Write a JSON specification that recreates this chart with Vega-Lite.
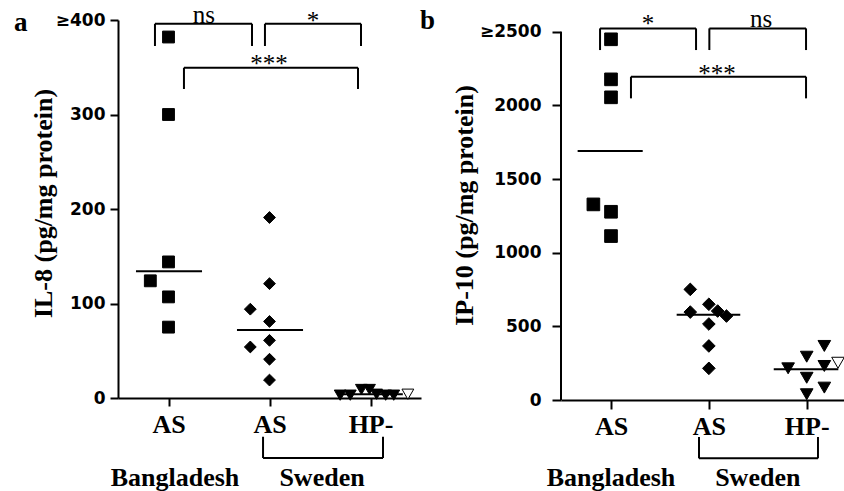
{
  "$schema": "https://vega.github.io/schema/vega-lite/v6.json",
  "autosize": {"type": "pad"},
  "padding": {"left": 13, "top": 3, "right": 0, "bottom": 0},
  "background": "white",
  "bounds": "flush",
  "spacing": 140,
  "config": {
    "view": {"stroke": null},
    "axis": {"grid": false, "domainColor": "black", "tickColor": "black", "labelColor": "black", "titleColor": "black", "domainWidth": 2, "tickWidth": 2, "labelFlush": false, "labelOverlap": false}
  },
  "datasets": {
    "a_pts": [
      {"type": "Bangladesh AS", "pos": 1.0, "value": 382},
      {"type": "Bangladesh AS", "pos": 1.0, "value": 300},
      {"type": "Bangladesh AS", "pos": 1.0, "value": 144},
      {"type": "Bangladesh AS", "pos": 0.82, "value": 124},
      {"type": "Bangladesh AS", "pos": 1.0, "value": 107},
      {"type": "Bangladesh AS", "pos": 1.0, "value": 75},
      {"type": "Sweden AS", "pos": 2.0, "value": 191},
      {"type": "Sweden AS", "pos": 2.0, "value": 121},
      {"type": "Sweden AS", "pos": 1.81, "value": 94},
      {"type": "Sweden AS", "pos": 2.0, "value": 81},
      {"type": "Sweden AS", "pos": 2.0, "value": 61},
      {"type": "Sweden AS", "pos": 1.81, "value": 54},
      {"type": "Sweden AS", "pos": 2.0, "value": 41},
      {"type": "Sweden AS", "pos": 2.0, "value": 19},
      {"type": "Sweden HP-", "pos": 2.7, "value": 3},
      {"type": "Sweden HP-", "pos": 2.8, "value": 3},
      {"type": "Sweden HP-", "pos": 2.91, "value": 9},
      {"type": "Sweden HP-", "pos": 2.99, "value": 9},
      {"type": "Sweden HP-", "pos": 3.06, "value": 4},
      {"type": "Sweden HP-", "pos": 3.15, "value": 3},
      {"type": "Sweden HP-", "pos": 3.23, "value": 3},
      {"type": "Sweden HP- open", "pos": 3.37, "value": 4}
    ],
    "a_med": [
      {"x1": 0.678, "x2": 1.332, "m": 134},
      {"x1": 1.678, "x2": 2.332, "m": 72},
      {"x1": 2.68, "x2": 3.32, "m": 4}
    ],
    "a_br": [
      {"x1": 0.866, "x2": 1.827, "top": 396, "bottom": 372.5, "label": "ns", "lx": 1.35, "ly": 396.5},
      {"x1": 1.955, "x2": 2.906, "top": 396, "bottom": 372.5, "label": "*", "lx": 2.43, "ly": 390},
      {"x1": 1.153, "x2": 2.876, "top": 349.5, "bottom": 327, "label": "***", "lx": 1.995, "ly": 344.6},
      {"x1": 1.936, "x2": 3.124, "top": -63.5, "bottom": -41, "label": "", "lx": 2.5, "ly": 0}
    ],
    "a_txt": [
      {"label": "Bangladesh", "x": 1.064, "y": -93},
      {"label": "Sweden", "x": 2.52, "y": -93}
    ],
    "a_letter": [{"label": "a", "x": -0.53, "y": 388}],
    "b_pts": [
      {"type": "Bangladesh AS", "pos": 1.0, "value": 2449},
      {"type": "Bangladesh AS", "pos": 1.0, "value": 2177},
      {"type": "Bangladesh AS", "pos": 1.0, "value": 2055},
      {"type": "Bangladesh AS", "pos": 0.82, "value": 1328},
      {"type": "Bangladesh AS", "pos": 1.0, "value": 1278},
      {"type": "Bangladesh AS", "pos": 1.0, "value": 1113},
      {"type": "Sweden AS", "pos": 1.81, "value": 751},
      {"type": "Sweden AS", "pos": 1.81, "value": 597},
      {"type": "Sweden AS", "pos": 2.0, "value": 650},
      {"type": "Sweden AS", "pos": 2.09, "value": 604},
      {"type": "Sweden AS", "pos": 2.18, "value": 570},
      {"type": "Sweden AS", "pos": 2.0, "value": 516},
      {"type": "Sweden AS", "pos": 2.0, "value": 367},
      {"type": "Sweden AS", "pos": 2.0, "value": 215},
      {"type": "Sweden HP-", "pos": 2.81, "value": 215},
      {"type": "Sweden HP-", "pos": 3.0, "value": 294},
      {"type": "Sweden HP-", "pos": 3.18, "value": 367},
      {"type": "Sweden HP-", "pos": 3.18, "value": 231},
      {"type": "Sweden HP-", "pos": 3.0, "value": 151},
      {"type": "Sweden HP-", "pos": 3.18, "value": 84},
      {"type": "Sweden HP-", "pos": 3.0, "value": 39},
      {"type": "Sweden HP- open", "pos": 3.32, "value": 253}
    ],
    "b_med": [
      {"x1": 0.659, "x2": 1.324, "m": 1690},
      {"x1": 1.671, "x2": 2.321, "m": 579},
      {"x1": 2.663, "x2": 3.323, "m": 208}
    ],
    "b_br": [
      {"x1": 0.888, "x2": 1.869, "top": 2523, "bottom": 2376, "label": "*", "lx": 1.378, "ly": 2496},
      {"x1": 2.005, "x2": 2.993, "top": 2523, "bottom": 2376, "label": "ns", "lx": 2.533, "ly": 2534},
      {"x1": 1.204, "x2": 2.993, "top": 2195, "bottom": 2048, "label": "***", "lx": 2.083, "ly": 2162},
      {"x1": 1.899, "x2": 3.115, "top": -396, "bottom": -251, "label": "", "lx": 2.5, "ly": 0}
    ],
    "b_txt": [
      {"label": "Bangladesh", "x": 1.0, "y": -584},
      {"label": "Sweden", "x": 2.5, "y": -584}
    ],
    "b_letter": [{"label": "b", "x": -0.952, "y": 2519}],
    "b_axis": [{"x": 0.489, "y1": 0, "y2": 2500}]
  },
  "hconcat": [
    {
      "width": 303,
      "height": 378,
      "layer": [
        {
          "data": {"name": "a_pts"},
          "mark": {"type": "point", "filled": true, "stroke": "black", "strokeWidth": 1, "opacity": 1, "size": 140},
          "encoding": {
            "x": {"field": "pos", "type": "quantitative", "scale": {"domain": [0.5, 3.5], "nice": false, "zero": false},
              "axis": {"values": [1, 2, 3], "labelExpr": "datum.value == 3 ? 'HP-' : 'AS'", "title": null, "labelFont": "Liberation Serif", "labelFontWeight": "bold", "labelFontSize": 26, "tickSize": 8, "labelPadding": 5}},
            "y": {"field": "value", "type": "quantitative", "scale": {"domain": [0, 400], "nice": false},
              "axis": {"values": [0, 100, 200, 300, 400], "labelExpr": "datum.value == 400 ? '≥400' : datum.label", "title": "IL-8 (pg/mg protein)", "titleFont": "Liberation Serif", "titleFontSize": 26, "titleFontWeight": "bold", "titleX": -74.5, "titleY": 183, "titleAngle": -90, "titleAlign": "center", "titleBaseline": "middle", "labelFont": "DejaVu Sans", "labelFontWeight": "bold", "labelFontSize": 17, "tickSize": 8, "labelPadding": 5}},
            "shape": {"field": "type", "type": "nominal", "scale": {"domain": ["Bangladesh AS", "Sweden AS", "Sweden HP-", "Sweden HP- open"], "range": ["square", "diamond", "triangle-down", "triangle-down"]}, "legend": null},
            "fill": {"field": "type", "type": "nominal", "scale": {"domain": ["Bangladesh AS", "Sweden AS", "Sweden HP-", "Sweden HP- open"], "range": ["black", "black", "black", "white"]}, "legend": null}
          }
        },
        {
          "data": {"name": "a_br"},
          "mark": {"type": "rule", "color": "black", "strokeWidth": 2},
          "encoding": {
            "x": {"field": "x1", "type": "quantitative"},
            "x2": {"field": "x2"},
            "y": {"field": "top", "type": "quantitative"}
          }
        },
        {
          "data": {"name": "a_br"},
          "mark": {"type": "rule", "color": "black", "strokeWidth": 2},
          "encoding": {
            "x": {"field": "x1", "type": "quantitative"},
            "y": {"field": "top", "type": "quantitative"},
            "y2": {"field": "bottom"}
          }
        },
        {
          "data": {"name": "a_br"},
          "mark": {"type": "rule", "color": "black", "strokeWidth": 2},
          "encoding": {
            "x": {"field": "x2", "type": "quantitative"},
            "y": {"field": "top", "type": "quantitative"},
            "y2": {"field": "bottom"}
          }
        },
        {
          "data": {"name": "a_br"},
          "mark": {"type": "text", "font": "Liberation Serif", "fontSize": 25, "color": "black", "align": "center", "baseline": "alphabetic"},
          "encoding": {
            "x": {"field": "lx", "type": "quantitative"},
            "y": {"field": "ly", "type": "quantitative"},
            "text": {"field": "label"}
          }
        },
        {
          "data": {"name": "a_txt"},
          "mark": {"type": "text", "font": "Liberation Serif", "fontWeight": "bold", "fontSize": 26, "color": "black", "align": "center", "baseline": "alphabetic"},
          "encoding": {
            "x": {"field": "x", "type": "quantitative"},
            "y": {"field": "y", "type": "quantitative"},
            "text": {"field": "label"}
          }
        },
        {
          "data": {"name": "a_letter"},
          "mark": {"type": "text", "font": "Liberation Serif", "fontWeight": "bold", "fontSize": 27, "color": "black", "align": "left", "baseline": "alphabetic"},
          "encoding": {
            "x": {"field": "x", "type": "quantitative"},
            "y": {"field": "y", "type": "quantitative"},
            "text": {"field": "label"}
          }
        },
        {
          "data": {"name": "a_med"},
          "mark": {"type": "rule", "color": "black", "strokeWidth": 2},
          "encoding": {
            "x": {"field": "x1", "type": "quantitative"},
            "x2": {"field": "x2"},
            "y": {"field": "m", "type": "quantitative"}
          }
        }
      ]
    },
    {
      "width": 283,
      "height": 380,
      "layer": [
        {
          "data": {"name": "b_pts"},
          "mark": {"type": "point", "filled": true, "stroke": "black", "strokeWidth": 1, "opacity": 1, "size": 160},
          "encoding": {
            "x": {"field": "pos", "type": "quantitative", "scale": {"domain": [0.489, 3.381], "nice": false, "zero": false},
              "axis": {"values": [1, 2, 3], "labelExpr": "datum.value == 3 ? 'HP-' : 'AS'", "title": null, "labelFont": "Liberation Serif", "labelFontWeight": "bold", "labelFontSize": 26, "tickSize": 9, "labelPadding": 4}},
            "y": {"field": "value", "type": "quantitative", "scale": {"domain": [0, 2580], "nice": false},
              "axis": {"values": [0, 500, 1000, 1500, 2000, 2500], "domain": false, "labelExpr": "datum.value == 2500 ? '≥2500' : datum.label", "format": "d", "title": "IP-10 (pg/mg protein)", "titleFont": "Liberation Serif", "titleFontSize": 26, "titleFontWeight": "bold", "titleX": -96.5, "titleY": 185, "titleAngle": -90, "titleAlign": "center", "titleBaseline": "middle", "labelFont": "DejaVu Sans", "labelFontWeight": "bold", "labelFontSize": 17, "tickSize": 9, "labelPadding": 11}},
            "shape": {"field": "type", "type": "nominal", "scale": {"domain": ["Bangladesh AS", "Sweden AS", "Sweden HP-", "Sweden HP- open"], "range": ["square", "diamond", "triangle-down", "triangle-down"]}, "legend": null},
            "fill": {"field": "type", "type": "nominal", "scale": {"domain": ["Bangladesh AS", "Sweden AS", "Sweden HP-", "Sweden HP- open"], "range": ["black", "black", "black", "white"]}, "legend": null}
          }
        },
        {
          "data": {"name": "b_axis"},
          "mark": {"type": "rule", "color": "black", "strokeWidth": 2},
          "encoding": {
            "x": {"field": "x", "type": "quantitative"},
            "y": {"field": "y1", "type": "quantitative"},
            "y2": {"field": "y2"}
          }
        },
        {
          "data": {"name": "b_br"},
          "mark": {"type": "rule", "color": "black", "strokeWidth": 2},
          "encoding": {
            "x": {"field": "x1", "type": "quantitative"},
            "x2": {"field": "x2"},
            "y": {"field": "top", "type": "quantitative"}
          }
        },
        {
          "data": {"name": "b_br"},
          "mark": {"type": "rule", "color": "black", "strokeWidth": 2},
          "encoding": {
            "x": {"field": "x1", "type": "quantitative"},
            "y": {"field": "top", "type": "quantitative"},
            "y2": {"field": "bottom"}
          }
        },
        {
          "data": {"name": "b_br"},
          "mark": {"type": "rule", "color": "black", "strokeWidth": 2},
          "encoding": {
            "x": {"field": "x2", "type": "quantitative"},
            "y": {"field": "top", "type": "quantitative"},
            "y2": {"field": "bottom"}
          }
        },
        {
          "data": {"name": "b_br"},
          "mark": {"type": "text", "font": "Liberation Serif", "fontSize": 25, "color": "black", "align": "center", "baseline": "alphabetic"},
          "encoding": {
            "x": {"field": "lx", "type": "quantitative"},
            "y": {"field": "ly", "type": "quantitative"},
            "text": {"field": "label"}
          }
        },
        {
          "data": {"name": "b_txt"},
          "mark": {"type": "text", "font": "Liberation Serif", "fontWeight": "bold", "fontSize": 26, "color": "black", "align": "center", "baseline": "alphabetic"},
          "encoding": {
            "x": {"field": "x", "type": "quantitative"},
            "y": {"field": "y", "type": "quantitative"},
            "text": {"field": "label"}
          }
        },
        {
          "data": {"name": "b_letter"},
          "mark": {"type": "text", "font": "Liberation Serif", "fontWeight": "bold", "fontSize": 27, "color": "black", "align": "left", "baseline": "alphabetic"},
          "encoding": {
            "x": {"field": "x", "type": "quantitative"},
            "y": {"field": "y", "type": "quantitative"},
            "text": {"field": "label"}
          }
        },
        {
          "data": {"name": "b_med"},
          "mark": {"type": "rule", "color": "black", "strokeWidth": 2},
          "encoding": {
            "x": {"field": "x1", "type": "quantitative"},
            "x2": {"field": "x2"},
            "y": {"field": "m", "type": "quantitative"}
          }
        }
      ]
    }
  ]
}
